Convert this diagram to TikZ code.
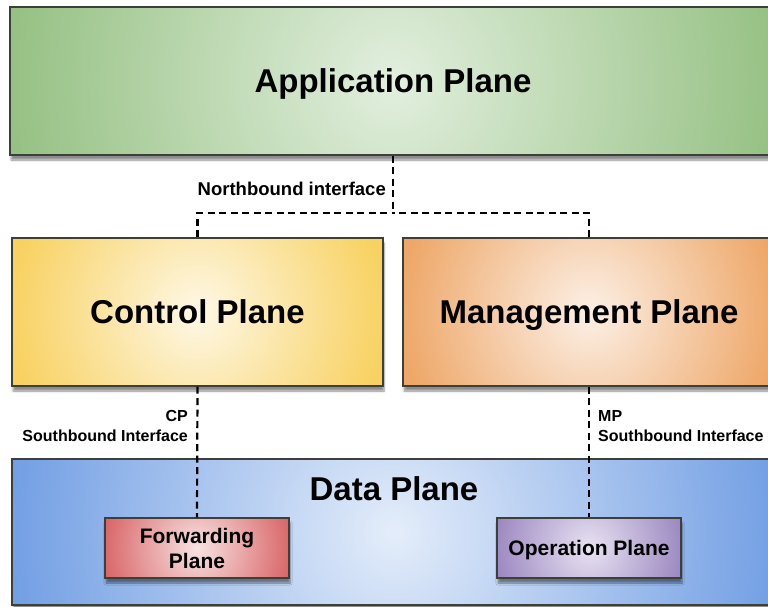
\documentclass[tikz,border=0pt]{standalone}
\usepackage{fontspec}
\setmainfont{Liberation Sans}
\usetikzlibrary{shadows.blur}

\definecolor{edge}{HTML}{3C4038}
\definecolor{appOut}{HTML}{93BF80}
\definecolor{appIn}{HTML}{E2EFDE}
\definecolor{cpOut}{HTML}{F8D160}
\definecolor{cpIn}{HTML}{FEF8E6}
\definecolor{mpOut}{HTML}{EEA768}
\definecolor{mpIn}{HTML}{FCF0E6}
\definecolor{dpOut}{HTML}{6E9CE3}
\definecolor{dpIn}{HTML}{E4EDFA}
\definecolor{fpOut}{HTML}{D96466}
\definecolor{fpIn}{HTML}{F8E2E2}
\definecolor{opOut}{HTML}{9B87C0}
\definecolor{opIn}{HTML}{E8E2F2}

\tikzset{
  plane/.style={draw=edge, line width=1.4pt, rectangle, inner sep=0pt,
    font=\bfseries\fontsize{33}{36}\selectfont, text=black,
    text height=23.8pt, text depth=0pt,
    blur shadow={shadow xshift=1pt, shadow yshift=-5pt, shadow blur steps=6, shadow opacity=45}},
  % round glow: a circular radial shading of the given radius over a flat outer colour
  glow/.style n args={3}{fill=#2, path picture={
      \shade[inner color=#1, outer color=#2]
        (path picture bounding box.center) circle[radius=#3];}},
  subplane/.style={plane, font=\bfseries\fontsize{21}{25}\selectfont, align=center,
    text height={}, minimum width=184pt, minimum height=60pt},
  iface/.style={dash pattern=on 7pt off 4.5pt, line width=2.2pt, black},
  ifacelabel/.style={font=\bfseries\fontsize{16}{20}\selectfont, inner sep=0pt}
}

\begin{document}
\begin{tikzpicture}[x=1pt,y=-1pt]
  \useasboundingbox (0,0) rectangle (768,607);

  % upper planes
  \node[plane, glow={appIn}{appOut}{400pt},
        minimum width=766pt, minimum height=148pt] (app) at (393,81) {Application Plane};
  \node[plane, glow={cpIn}{cpOut}{190pt},
        minimum width=371pt, minimum height=148pt] (cp) at (197.5,312) {Control Plane};
  \node[plane, glow={mpIn}{mpOut}{190pt},
        minimum width=372pt, minimum height=148pt] (mp) at (589,312) {Management Plane};

  % data plane with its two sub-planes
  \node[plane, glow={dpIn}{dpOut}{400pt},
        minimum width=764pt, minimum height=146pt] (dp) at (394,532) {};
  \node[font=\bfseries\fontsize{33}{36}\selectfont, inner sep=0pt] (dptitle) at (394,489) {Data Plane};
  \node[subplane, glow={fpIn}{fpOut}{96pt}] (fp) at (197,548) {Forwarding\\Plane};
  \node[subplane, glow={opIn}{opOut}{96pt}] (op) at (589,548) {Operation Plane};

  % northbound interface
  \coordinate (nb) at (393,213);
  \draw[iface] (app.south) -- (nb);
  \draw[iface] (cp.north) |- (nb);
  \draw[iface] (mp.north) |- (nb);
  \node[ifacelabel, font=\bfseries\fontsize{18.5}{22}\selectfont, anchor=east]
    (nblabel) at (386,189) {Northbound interface};

  % southbound interfaces
  \draw[iface] (cp.south) -- (fp.north);
  \draw[iface] (mp.south) -- (op.north);
  \node[ifacelabel, anchor=east, align=right] (cpsb) at (188,426) {CP\\Southbound Interface};
  \node[ifacelabel, anchor=west, align=left] (mpsb) at (598,426) {MP\\Southbound Interface};
\end{tikzpicture}
\end{document}
